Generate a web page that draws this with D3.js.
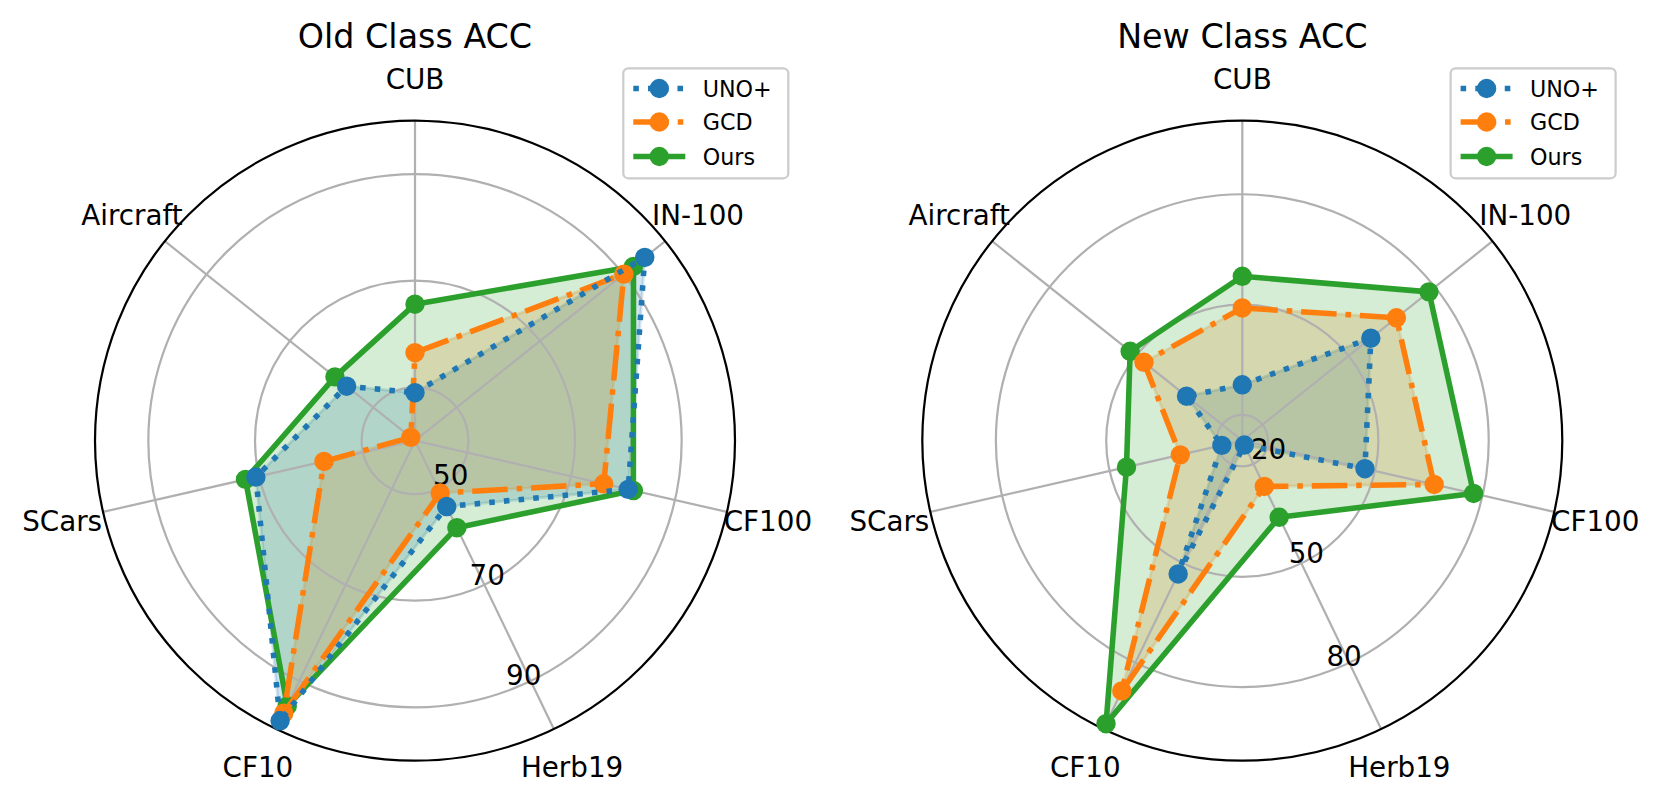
<!DOCTYPE html>
<html>
<head>
<meta charset="utf-8">
<script src="https://cdn.jsdelivr.net/npm/d3@7"></script>
<style>
  html, body { margin: 0; padding: 0; background: #fff; }
  svg { display: block; font-family: "DejaVu Sans", sans-serif; }
</style>
</head>
<body>
<svg id="chart" width="1662" height="802"></svg>
<script>
// ---- data (clockwise from top) ----
const categories = ["CUB", "IN-100", "CF100", "Herb19", "CF10", "SCars", "Aircraft"];
const seriesNames = ["UNO+", "GCD", "Ours"];

const oldUNO  = [49.0, 95.1, 81.0, 53.7, 98.3, 70.6, 56.4];
const oldGCD  = [56.5, 90.1, 76.3, 50.9, 96.7, 57.5, 41.0];
const oldOurs = [65.6, 92.4, 82.0, 58.1, 95.2, 72.6, 59.2];

const newUNO  = [28.2, 57.7, 47.2, 14.3, 53.2, 18.7, 32.4];
const newGCD  = [49.1, 66.6, 66.5, 26.8, 88.5, 30.3, 47.2];
const newOurs = [57.7, 77.9, 77.5, 36.1, 98.4, 45.3, 52.0];

const oldTicks = [50, 70, 90];
const newTicks = [20, 50, 80];
const oldRange = [40, 100];
const newRange = [13, 100];

// ---- styles ----
const PT = 200 / 72;
const colors = ["#1f77b4", "#ff7f0e", "#2ca02c"];
const LW = 2 * PT;
const dashes = [
  [1 * LW, 1.65 * LW].join(","),
  [6.4 * LW, 1.6 * LW, 1 * LW, 1.6 * LW].join(","),
  null
];
const R = 320;
const svg = d3.select("#chart");

const charts = [
  { title: "Old Class ACC", cx: 415, cy: 440.7, domain: oldRange, ticks: oldTicks, data: [oldUNO, oldGCD, oldOurs] },
  { title: "New Class ACC", cx: 1242.3, cy: 440.7, domain: newRange, ticks: newTicks, data: [newUNO, newGCD, newOurs] }
];

const angle = d3.scaleLinear().domain([0, categories.length]).range([0, 2 * Math.PI]);

charts.forEach(ch => {
  const r = d3.scaleLinear().domain(ch.domain).range([0, R]);
  const g = svg.append("g").attr("transform", `translate(${ch.cx},${ch.cy})`);
  const px = (i, v) => r(v) * Math.sin(angle(i));
  const py = (i, v) => -r(v) * Math.cos(angle(i));

  // fills (zorder 1)
  const area = d3.lineRadial()
    .angle((d, i) => angle(i))
    .radius(d => r(d))
    .curve(d3.curveLinearClosed);
  ch.data.forEach((vals, si) => {
    g.append("path")
      .attr("d", area(vals))
      .attr("fill", colors[si]).attr("fill-opacity", 0.2)
      .attr("stroke", colors[si]).attr("stroke-opacity", 0.2)
      .attr("stroke-width", 1 * PT)
      .attr("stroke-linejoin", "miter");
  });

  // grid
  const grid = g.append("g");
  ch.ticks.forEach(t => {
    grid.append("circle").attr("r", r(t))
      .attr("fill", "none").attr("stroke", "#b0b0b0").attr("stroke-width", 0.8 * PT);
  });
  categories.forEach((c, i) => {
    grid.append("line")
      .attr("x1", 0).attr("y1", 0)
      .attr("x2", px(i, ch.domain[1])).attr("y2", py(i, ch.domain[1]))
      .attr("stroke", "#b0b0b0").attr("stroke-width", 0.8 * PT);
  });
  // spine
  g.append("circle").attr("r", R).attr("fill", "none")
    .attr("stroke", "#000").attr("stroke-width", 0.8 * PT);

  // category labels
  categories.forEach((c, i) => {
    const a = angle(i);
    g.append("text")
      .attr("x", 362 * Math.sin(a))
      .attr("y", -362 * Math.cos(a) + 10.1)
      .attr("text-anchor", "middle")
      .attr("font-size", 10 * PT)
      .text(c);
  });

  // radial tick labels
  const la = 70 * Math.PI / 180;
  ch.ticks.forEach(t => {
    g.append("text")
      .attr("x", r(t) * Math.cos(la) + 17.5)
      .attr("y", r(t) * Math.sin(la) - 16 + 10.1)
      .attr("text-anchor", "middle")
      .attr("font-size", 10 * PT)
      .text(t);
  });

  // lines with markers (drawn green, orange, blue)
  const line = d3.lineRadial()
    .angle((d, i) => angle(i))
    .radius(d => r(d))
    .curve(d3.curveLinearClosed);
  [2, 1, 0].forEach(si => {
    const vals = ch.data[si];
    const p = g.append("path")
      .attr("d", line(vals))
      .attr("fill", "none")
      .attr("stroke", colors[si])
      .attr("stroke-width", LW)
      .attr("stroke-linejoin", "round")
      .attr("stroke-linecap", si === 2 ? "round" : "butt");
    if (dashes[si]) p.attr("stroke-dasharray", dashes[si]);
    vals.forEach((v, i) => {
      g.append("circle")
        .attr("cx", px(i, v)).attr("cy", py(i, v))
        .attr("r", 3 * PT)
        .attr("fill", colors[si])
        .attr("stroke", colors[si]).attr("stroke-width", 1 * PT);
    });
  });

  // title
  svg.append("text")
    .attr("x", ch.cx).attr("y", 48)
    .attr("text-anchor", "middle")
    .attr("font-size", 12 * PT)
    .text(ch.title);

  // legend
  const lg = svg.append("g").attr("transform", `translate(${ch.cx + 208.3},68.3)`);
  lg.append("rect").attr("width", 165).attr("height", 110)
    .attr("rx", 5).attr("ry", 5)
    .attr("fill", "#fff").attr("fill-opacity", 0.8)
    .attr("stroke", "#cccccc").attr("stroke-width", 1 * PT * 0.8);
  const rowsY = [20.2, 53.7, 88.2];
  seriesNames.forEach((name, si) => {
    const y = rowsY[si];
    const l = lg.append("line")
      .attr("x1", 10).attr("x2", 62).attr("y1", y).attr("y2", y)
      .attr("stroke", colors[si]).attr("stroke-width", LW)
      .attr("stroke-linecap", "butt");
    if (dashes[si]) l.attr("stroke-dasharray", dashes[si]);
    lg.append("circle").attr("cx", 36).attr("cy", y).attr("r", 3 * PT)
      .attr("fill", colors[si]).attr("stroke", colors[si]).attr("stroke-width", 1 * PT);
    lg.append("text").attr("x", 79.4).attr("y", y + 8.1)
      .attr("font-size", 8 * PT)
      .text(name);
  });
});
</script>
</body>
</html>
